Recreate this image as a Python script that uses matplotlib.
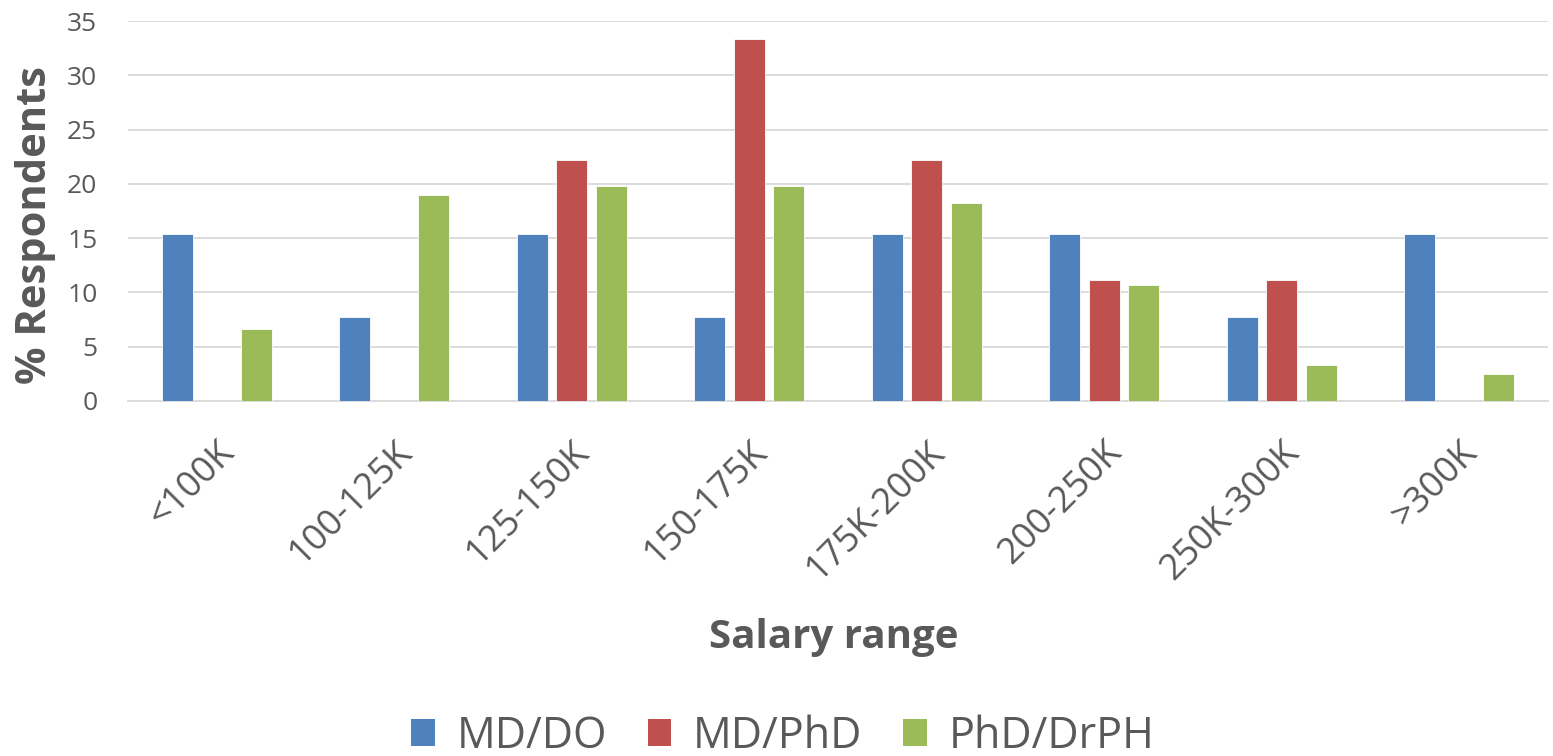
import numpy as np
import matplotlib.pyplot as plt
from matplotlib.patches import Patch

plt.rcParams['font.family'] = ['Open Sans', 'DejaVu Sans']

categories = ['<100K', '100-125K', '125-150K', '150-175K', '175K-200K', '200-250K', '250K-300K', '>300K']
md_do = [15.4, 7.7, 15.4, 7.7, 15.4, 15.4, 7.7, 15.4]
md_phd = [0, 0, 22.2, 33.3, 22.2, 11.1, 11.1, 0]
phd_drph = [6.6, 19.0, 19.8, 19.8, 18.2, 10.7, 3.3, 2.5]
series_names = ['MD/DO', 'MD/PhD', 'PhD/DrPH']
colors = ['#4F81BD', '#C0504D', '#9BBB59']
grey = '#595959'

fig = plt.figure(figsize=(15.53, 7.56), dpi=100)
ax = fig.add_axes([0.0824, 0.4696, 0.9144, 0.5026])

x = np.arange(len(categories))
w = 0.175
off = 0.2225
for i, vals in enumerate([md_do, md_phd, phd_drph]):
    ax.bar(x + (i - 1) * off, vals, width=w, color=colors[i], edgecolor='white', linewidth=0.6, zorder=3)

ax.set_xlim(-0.5, len(categories) - 0.5)
ax.set_ylim(0, 35)
ax.set_yticks(range(0, 36, 5))
ax.grid(axis='y', color='#D9D9D9', linewidth=1.3, zorder=0)
for s in ['top', 'right', 'left']:
    ax.spines[s].set_visible(False)
ax.spines['bottom'].set_color('#D9D9D9')
ax.spines['bottom'].set_linewidth(1.3)
ax.tick_params(axis='both', length=0, colors=grey)
ax.tick_params(axis='y', labelsize=19, pad=22)
ax.set_xticks(x)
ax.set_xticklabels(categories, rotation=45, ha='right', rotation_mode='anchor', fontsize=26, color=grey)
ax.tick_params(axis='x', pad=24)

fig.text(0.023, 0.702, '% Respondents', rotation=90, ha='center', va='center',
         fontsize=30, fontweight='bold', color=grey)
fig.text(0.537, 0.157, 'Salary range', ha='center', va='center',
         fontsize=29, fontweight='bold', color=grey)

handles = [Patch(facecolor=c, label=n) for c, n in zip(colors, series_names)]
leg = fig.legend(handles=handles, loc='center', bbox_to_anchor=(0.504, 0.026), ncol=3,
                 frameon=False, fontsize=31, handlelength=0.55, handleheight=0.6,
                 handletextpad=0.5, columnspacing=0.95)
for t in leg.get_texts():
    t.set_color(grey)

fig.savefig('out.png', dpi=100)
